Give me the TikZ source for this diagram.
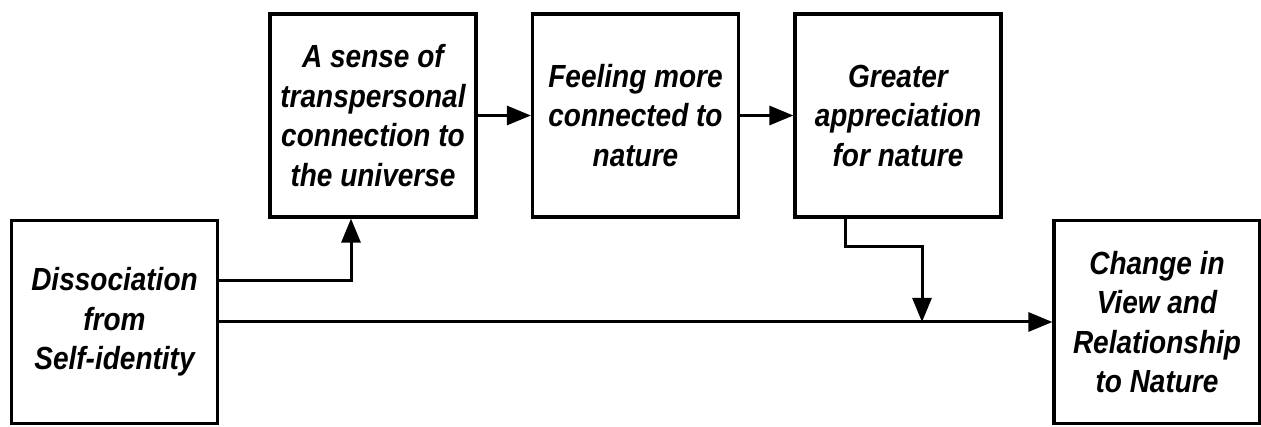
\documentclass[tikz,border=0pt]{standalone}
\usepackage{fontspec}
\setmainfont[FakeStretch=0.875]{Liberation Sans}
\usepackage{tikz}
\usetikzlibrary{arrows.meta, positioning}

\tikzset{
    box/.style={draw, line width=3.2pt, minimum width=206pt, minimum height=203pt,
        align=center, font=\fontsize{32}{39.5}\selectfont\bfseries\itshape, inner sep=2pt},
    flow/.style={line width=3pt, -{Triangle[length=24pt, width=19pt]}}
}

\begin{document}
\begin{tikzpicture}[x=1pt, y=-1pt]
                \useasboundingbox (0, 0) rectangle (1261, 427);

                \node[box] (diss) at (114.5, 322) {Dissociation\\from\\Self-identity};
                \node[box] (sense) at (373, 115.5) {A sense of\\transpersonal\\connection to\\the universe};
                \node[box] (feel) at (635.5, 115.5) {Feeling more\\connected to\\nature};
                \node[box] (appr) at (898, 115.5) {Greater\\appreciation\\for nature};
                \node[box] (change) at (1157, 322) {Change in\\View and\\Relationship\\to Nature};

                \coordinate (up) at (351, 281);
                \coordinate (drop) at (845, 247);
                \coordinate (join) at (922, 322);

                \draw[flow] (diss.east |- up) -- (up) -- (up |- sense.south);
                \draw[flow] (sense) -- (feel);
                \draw[flow] (feel) -- (appr);
                \draw[flow] (diss) -- (change);
                \draw[flow] (drop |- appr.south) -- (drop) -| (join);
            \end{tikzpicture}
\end{document}
